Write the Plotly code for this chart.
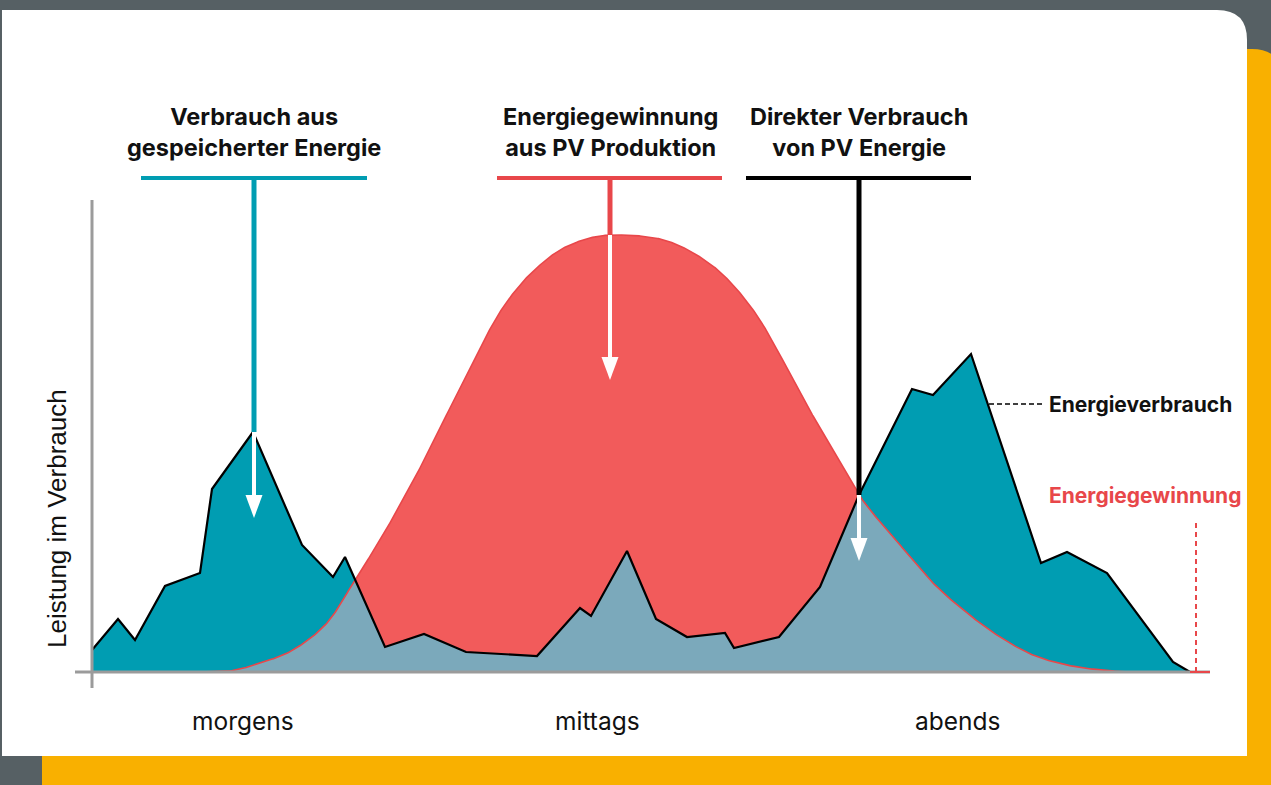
import numpy as np
import plotly.graph_objects as go

# ---------------- data (x: position across the day, y: power, arbitrary units) ----------------
cons_x = [0, 26, 43, 73, 108, 120, 161, 210, 241, 253, 293, 332, 374, 445, 488, 499, 535, 564,
          595, 633, 642, 687, 728, 767, 820, 841, 879, 949, 975, 1015, 1081, 1098]
cons_y = [22, 53, 32, 86, 99, 183, 240, 127, 95, 115, 25, 38, 20, 16, 64, 56, 121, 53,
          35, 39, 24, 35, 85, 177, 283, 277, 318, 109, 120, 99, 10, 0]

pv_x = [108, 138, 168, 201, 235, 263, 288, 308, 328, 348, 368, 388, 408, 428, 448, 468, 488, 508,
        528, 548, 568, 588, 608, 628, 648, 668, 688, 708, 728, 748, 767, 788, 808, 841, 875, 908,
        941, 975, 1008, 1038]
pv_y = [0, 1, 9, 22, 49, 92, 132, 167, 204, 244, 284, 324, 360, 387, 407, 422, 431, 436,
        437, 436, 433, 426, 415, 400, 379, 352, 317, 279, 244, 210, 177, 150, 127, 89, 59, 35,
        17, 7, 2, 0]

period_labels = ["morgens", "mittags", "abends"]
period_pos = [151, 505, 865]

# ---------------- colours ----------------
BG = "#566064"
YELLOW = "#F9B000"
TEAL = "#009DB2"
RED_FILL = "#F25B5B"
RED_LINE = "#E8474A"
OVERLAP = "#7BA9BB"
AXIS = "#9B9B9B"


def smooth(xs, ys, n=24):
    """Catmull-Rom rendering of the read points (for a smooth outline)."""
    P = np.column_stack([xs, ys]).astype(float)
    P = np.vstack([P[0], P, P[-1]])
    out = []
    for i in range(1, len(P) - 2):
        p0, p1, p2, p3 = P[i - 1], P[i], P[i + 1], P[i + 2]
        t = np.linspace(0, 1, n, endpoint=False)[:, None]
        seg = 0.5 * ((2 * p1) + (-p0 + p2) * t + (2 * p0 - 5 * p1 + 4 * p2 - p3) * t ** 2
                     + (-p0 + 3 * p1 - 3 * p2 + p3) * t ** 3)
        out.append(seg)
    out.append(P[-2][None, :])
    S = np.vstack(out)
    return S[:, 0], np.clip(S[:, 1], 0, None)


pvs_x, pvs_y = smooth(pv_x, pv_y)
grid = np.linspace(cons_x[0], cons_x[-1], 3000)
grid = np.unique(np.concatenate([grid, cons_x]))
pv_g = np.interp(grid, pvs_x, pvs_y, left=0, right=0)
cons_g = np.interp(grid, cons_x, cons_y)
overlap = np.minimum(pv_g, cons_g)

fig = go.Figure()
fig.add_trace(go.Scatter(x=cons_x, y=cons_y, fill="tozeroy", fillcolor=TEAL, mode="lines",
                         line=dict(width=0, color=TEAL), hoverinfo="skip", showlegend=False))
fig.add_trace(go.Scatter(x=pvs_x, y=pvs_y, fill="tozeroy", fillcolor=RED_FILL, mode="lines",
                         line=dict(width=0, color=RED_FILL), hoverinfo="skip", showlegend=False))
fig.add_trace(go.Scatter(x=grid, y=overlap, fill="tozeroy", fillcolor=OVERLAP, mode="lines",
                         line=dict(width=0, color=OVERLAP), hoverinfo="skip", showlegend=False))
fig.add_trace(go.Scatter(x=pvs_x, y=pvs_y, mode="lines", line=dict(width=1.6, color=RED_LINE),
                         hoverinfo="skip", showlegend=False))
fig.add_trace(go.Scatter(x=cons_x, y=cons_y, mode="lines", line=dict(width=2.2, color="black"),
                         hoverinfo="skip", showlegend=False))

W, H = 1271, 785


def ppath(pts, close=True):
    s = ""
    for cmd, coords in pts:
        s += cmd + " " + " ".join(f"{x / W:.5f},{1 - y / H:.5f}" for x, y in coords) + " "
    return s + ("Z" if close else "")


shapes = []
# yellow block behind the card
shapes.append(dict(type="path", xref="paper", yref="paper", layer="below", line=dict(width=0),
                   fillcolor=YELLOW,
                   path=ppath([("M", [(42, 800)]), ("L", [(42, 49)]), ("L", [(1252, 49)]),
                               ("Q", [(1282, 49), (1282, 79)]), ("L", [(1282, 800)])])))
# white card
shapes.append(dict(type="path", xref="paper", yref="paper", layer="below", line=dict(width=0),
                   fillcolor="white",
                   path=ppath([("M", [(2, 756)]), ("L", [(2, 10)]), ("L", [(1217, 10)]),
                               ("Q", [(1247, 10), (1247, 40)]), ("L", [(1247, 756)])])))

# axes
shapes.append(dict(type="line", x0=0, x1=0, y0=-16, y1=472, line=dict(color=AXIS, width=3), layer="above"))
shapes.append(dict(type="line", x0=-17, x1=1118, y0=0, y1=0, line=dict(color=AXIS, width=3), layer="above"))
shapes.append(dict(type="line", x0=1098, x1=1118, y0=0, y1=0, line=dict(color=RED_LINE, width=2), layer="above"))
shapes.append(dict(type="line", x0=1104, x1=1104, y0=0, y1=150,
                   line=dict(color=RED_LINE, width=2, dash="5px,4px"), layer="above"))
# connector to Energieverbrauch
shapes.append(dict(type="line", x0=897, x1=951, y0=268, y1=268,
                   line=dict(color="black", width=1.6, dash="5px,3px"), layer="above"))


def pointer(xc, x0, x1, color, y_hit, y_tip):
    top = 494
    shapes.append(dict(type="line", x0=x0, x1=x1, y0=top, y1=top, line=dict(color=color, width=4), layer="above"))
    shapes.append(dict(type="line", x0=xc, x1=xc, y0=top, y1=y_hit, line=dict(color=color, width=5), layer="above"))
    shapes.append(dict(type="line", x0=xc, x1=xc, y0=y_hit, y1=y_tip + 20, line=dict(color="white", width=4), layer="above"))
    shapes.append(dict(type="path", layer="above", fillcolor="white", line=dict(width=0),
                       path=f"M {xc - 8.5},{y_tip + 23} L {xc + 8.5},{y_tip + 23} L {xc},{y_tip} Z"))


pointer(162, 49, 275, TEAL, cons_y[6], 154)
pointer(518, 405, 630, RED_LINE, max(pv_y), 292)
pointer(767, 654, 879, "black", cons_y[23], 111)

annotations = []
titles = [("<b>Verbrauch aus<br>gespeicherter Energie</b>", 162),
          ("<b>Energiegewinnung<br>aus PV Produktion</b>", 518),
          ("<b>Direkter Verbrauch<br>von PV Energie</b>", 767)]
for txt, xc in titles:
    annotations.append(dict(x=xc, y=540, text=txt, showarrow=False, xanchor="center", yanchor="middle",
                            align="center", font=dict(family="Inter", size=23.5, color="#111111")))
for lab, xp in zip(period_labels, period_pos):
    annotations.append(dict(x=xp, y=-49, text=lab, showarrow=False, xanchor="center", yanchor="middle",
                            font=dict(family="Inter", size=24.5, color="#111111")))
annotations.append(dict(x=-35, y=153, text="Leistung im Verbrauch", textangle=-90, showarrow=False,
                        xanchor="center", yanchor="middle",
                        font=dict(family="Liberation Sans", size=26, color="#111111")))
annotations.append(dict(x=955, y=268, text="<b>Energieverbrauch</b>", showarrow=False, xanchor="left",
                        yanchor="middle", font=dict(family="Inter", size=21, color="#111111")))
annotations.append(dict(x=955, y=177, text="<b>Energiegewinnung</b>", showarrow=False, xanchor="left",
                        yanchor="middle", font=dict(family="Inter", size=21, color=RED_LINE)))

fig.update_layout(
    width=W, height=H, autosize=False,
    margin=dict(l=0, r=0, t=0, b=0, pad=0),
    paper_bgcolor=BG, plot_bgcolor="rgba(0,0,0,0)",
    xaxis=dict(range=[-92, W - 92], visible=False, fixedrange=True),
    yaxis=dict(range=[672 - H, 672], visible=False, fixedrange=True),
    shapes=shapes, annotations=annotations, showlegend=False,
)

fig.write_html("out.html", config={"displayModeBar": False, "staticPlot": True},
               post_script="document.body.style.margin='0px';document.body.style.background='%s';"
                           "document.body.style.overflow='hidden';" % BG)
